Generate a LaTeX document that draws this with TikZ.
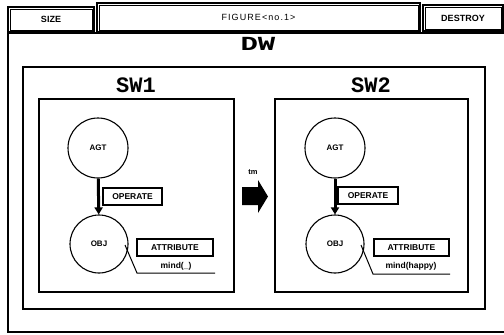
\documentclass[tikz,border=0pt]{standalone}
\usepackage{fontspec}
\setmainfont{Liberation Sans}
\newfontfamily\monob{Liberation Mono}
\usetikzlibrary{arrows.meta}
\begin{document}
\begin{tikzpicture}[x=1pt,y=-1pt,
  btn/.style={draw,line width=2pt,inner sep=0pt,font=\bfseries\fontsize{9}{10}\selectfont},
  ttl/.style={font=\monob\bfseries\fontsize{22}{24}\selectfont,inner sep=0pt},
  circ/.style={draw,circle,line width=1.1pt,minimum size=#1,inner sep=0pt,font=\bfseries\fontsize{8}{9}\selectfont},
  lbl/.style={draw,line width=1.1pt,inner sep=0pt,font=\bfseries\fontsize{8.5}{9}\selectfont},
  txt/.style={inner sep=0pt,font=\bfseries\fontsize{8.5}{9}\selectfont},
  frm/.style={line width=1.1pt},
  conn/.style={line width=3pt,-{Triangle[length=7pt,width=8pt]}},
  ptr/.style={line width=1pt}]
\useasboundingbox (0,0) rectangle (504,335);
% top buttons
\node[btn,minimum width=86pt,minimum height=25pt] (size) at (51,19.5) {SIZE};
\node[btn,minimum width=323pt,minimum height=29pt,font=\fontsize{9}{10}\selectfont\addfontfeature{LetterSpace=12}] (fig) at (258.5,17.5) {FIGURE<no.1>};
\node[btn,minimum width=80pt,minimum height=26pt] (destroy) at (463,18) {DESTROY};
\foreach \b in {size,fig,destroy}
  \draw[line width=0.6pt] ([shift={(3,3)}]\b.north west) rectangle ([shift={(-3,-3)}]\b.south east);
% DW frame
\draw[line width=2.5pt] (510,33) -- (8,33) -- (8,332) -- (510,332);
\node[ttl,anchor=base,font=\monob\bfseries\fontsize{20}{22}\selectfont] (dw) at (258,50) {\scalebox{1.45}[1]{DW}};
% SW outer box
\draw[frm] (23,67) rectangle (485,309);
\node[ttl,anchor=base] (sw1) at (136,92) {SW1};
\node[ttl,anchor=base] (sw2) at (371,92) {SW2};
% inner boxes
\draw[frm] (39,99) rectangle (234,292);
\draw[frm] (275,99) rectangle (468,292);
% SW1 contents
\node[circ=60pt] (agt1) at (98,148) {AGT};
\node[circ=58pt] (obj1) at (99,244) {OBJ};
\draw[conn] (agt1) -- (obj1);
\node[lbl,minimum width=59pt,minimum height=17pt] (op1) at (132.5,196.5) {OPERATE};
\node[lbl,minimum width=76pt,minimum height=17pt] (at1) at (175,247.5) {ATTRIBUTE};
\node[txt] (mind1) at (176,266) {mind(\_)};
\coordinate (p1a) at (125,245);
\coordinate (p1b) at (137,273);
\coordinate (p1c) at (215,273);
\draw[ptr] (p1a) -- (p1b) -- (p1c);
% SW2 contents
\node[circ=60pt] (agt2) at (335,148) {AGT};
\node[circ=58pt] (obj2) at (335,244) {OBJ};
\draw[conn] (agt2) -- (obj2);
\node[lbl,minimum width=60pt,minimum height=17pt] (op2) at (368,195.5) {OPERATE};
\node[lbl,minimum width=75pt,minimum height=17pt] (at2) at (411.5,247.5) {ATTRIBUTE};
\node[txt] (mind2) at (411,266) {mind(happy)};
\coordinate (p2a) at (361,245);
\coordinate (p2b) at (373,274);
\coordinate (p2c) at (450,274);
\draw[ptr] (p2a) -- (p2b) -- (p2c);
% transition arrow
\node[txt,font=\fontsize{7.5}{8}\selectfont\bfseries] (tm) at (253,172) {tm};
\fill (242,187) -- (258,187) -- (258,180) -- (268,196.5) -- (258,213) -- (258,205) -- (242,205) -- cycle;
\end{tikzpicture}
\end{document}
